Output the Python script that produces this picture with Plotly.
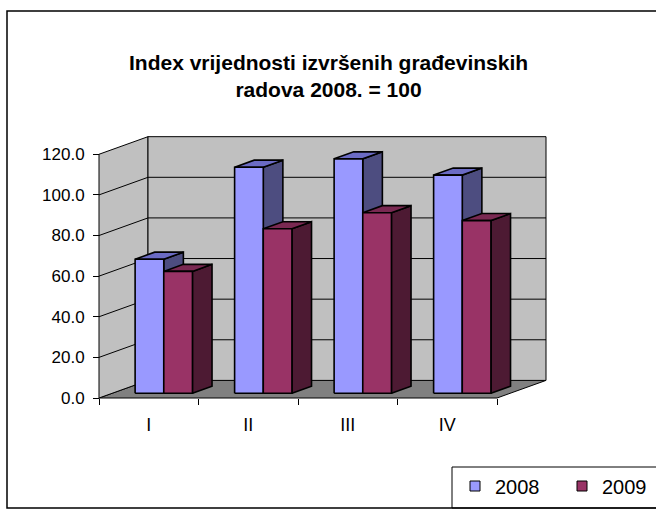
import plotly.graph_objects as go

# ---------------- data ----------------
categories = ["I", "II", "III", "IV"]
series_names = ["2008", "2009"]
values_2008 = [66.0, 111.3, 115.4, 107.4]
values_2009 = [60.0, 81.0, 88.9, 85.0]
y_ticks = [0, 20, 40, 60, 80, 100, 120]
title_text = "Index vrijednosti izvršenih građevinskih<br>radova 2008. = 100"

# ---------------- style ----------------
front_colors = ["#9999FF", "#993366"]
top_colors = ["#6B6BC4", "#7A2952"]
side_colors = ["#4D4D80", "#4D1A33"]
wall_color = "#C0C0C0"
floor_color = "#808080"
FONT = "Liberation Sans, Arial, sans-serif"

W, H = 656, 512
X0PX, UX = 99.0, 99.5      # pixel of x=0, pixels per category
Y0PX, UY = 398.0, 2.031    # pixel of y=0, pixels per value unit
DX, DY = 49.0 / UX, 17.6 / UY   # depth offset of the 3D box in data units
YMAX = y_ticks[-1]
NCAT = len(categories)
FF = 0.27        # depth fraction of bar front plane
BD = 0.40        # bar depth fraction
BW = 0.288       # bar width
BSTART = 0.23    # bar start in category (front plane)
LEGEND_X = [455, 562]

fig = go.Figure()


def poly(xs, ys, fill, lw=1.0):
    fig.add_trace(go.Scatter(
        x=list(xs) + [xs[0]], y=list(ys) + [ys[0]], mode="lines", fill="toself",
        fillcolor=fill, line=dict(color="black", width=lw),
        showlegend=False, hoverinfo="skip"))


def seg(xs, ys, lw=1.0):
    fig.add_trace(go.Scatter(x=xs, y=ys, mode="lines",
                             line=dict(color="black", width=lw),
                             showlegend=False, hoverinfo="skip"))


# floor
poly([0, NCAT, NCAT + DX, DX], [0, 0, DY, DY], floor_color)
# left wall
poly([0, DX, DX, 0], [0, DY, YMAX + DY, YMAX], wall_color)
# back wall
poly([DX, NCAT + DX, NCAT + DX, DX], [DY, DY, YMAX + DY, YMAX + DY], wall_color)
# gridlines
for v in y_ticks[1:-1]:
    seg([0, DX, NCAT + DX], [v, v + DY, v + DY])

# bars
ox, oy = FF * DX, FF * DY
bdx, bdy = BD * DX, BD * DY
all_vals = [values_2008, values_2009]
for i in range(NCAT):
    for s in range(len(series_names)):
        v = all_vals[s][i]
        x0 = i + BSTART + ox + s * BW
        x1 = x0 + BW
        yb, yt = oy, oy + v
        poly([x1, x1 + bdx, x1 + bdx, x1], [yb, yb + bdy, yt + bdy, yt], side_colors[s], 1.6)
        poly([x0, x1, x1 + bdx, x0 + bdx], [yt, yt, yt + bdy, yt + bdy], top_colors[s], 1.6)
        poly([x0, x1, x1, x0], [yb, yb, yt, yt], front_colors[s], 1.6)

# legend entries (one legend per series for exact placement)
legend_ids = ["legend", "legend2"]
for s, name in enumerate(series_names):
    fig.add_trace(go.Scatter(
        x=[None], y=[None], mode="markers", name=name, legend=legend_ids[s],
        marker=dict(symbol="square", size=10, color=front_colors[s],
                    line=dict(color="black", width=1))))

legend_common = dict(orientation="h", xanchor="left", yanchor="middle",
                     y=(H - 486) / H, bgcolor="rgba(0,0,0,0)", borderwidth=0,
                     font=dict(size=20, family=FONT))

fig.update_layout(
    width=W, height=H,
    margin=dict(l=0, r=0, t=0, b=0, pad=0),
    paper_bgcolor="white", plot_bgcolor="white",
    font=dict(family=FONT, color="black"),
    showlegend=True,
    legend=dict(x=LEGEND_X[0] / W, **legend_common),
    legend2=dict(x=LEGEND_X[1] / W, **legend_common),
    xaxis=dict(range=[-X0PX / UX, (W - X0PX) / UX], anchor="free",
               position=(H - Y0PX) / H, tickmode="array",
               tickvals=[i + 0.5 for i in range(NCAT)], ticktext=categories,
               ticks="", showgrid=False, zeroline=False, showline=False,
               tickfont=dict(size=18, family=FONT), ticklabelstandoff=14,
               minor=dict(tickmode="array", tickvals=list(range(NCAT + 1)),
                          ticks="outside", ticklen=6, tickcolor="black",
                          showgrid=False)),
    yaxis=dict(range=[(Y0PX - H) / UY, Y0PX / UY], anchor="free",
               position=X0PX / W, tickmode="array", tickvals=y_ticks,
               tickformat=".1f", ticks="outside", ticklen=6, tickcolor="black",
               showgrid=False, zeroline=False, showline=False,
               tickfont=dict(size=17, family=FONT), ticklabelstandoff=5),
    annotations=[dict(text=title_text, x=0.5, xref="paper", y=(H - 49) / H,
                      yref="paper", yanchor="top", xanchor="center",
                      showarrow=False,
                      font=dict(size=21, family=FONT, weight="bold"))],
    shapes=[
        dict(type="rect", xref="paper", yref="paper", x0=7 / W, x1=(W + 5) / W,
             y0=(H - 508) / H, y1=(H - 11) / H, line=dict(color="black", width=1.5)),
        dict(type="rect", xref="paper", yref="paper", x0=452 / W, x1=(W + 10) / W,
             y0=(H - 508) / H, y1=(H - 467) / H, line=dict(color="black", width=1)),
    ],
)

fig.write_html("out.html", config={"displayModeBar": False},
               post_script="document.body.style.margin='0';")
